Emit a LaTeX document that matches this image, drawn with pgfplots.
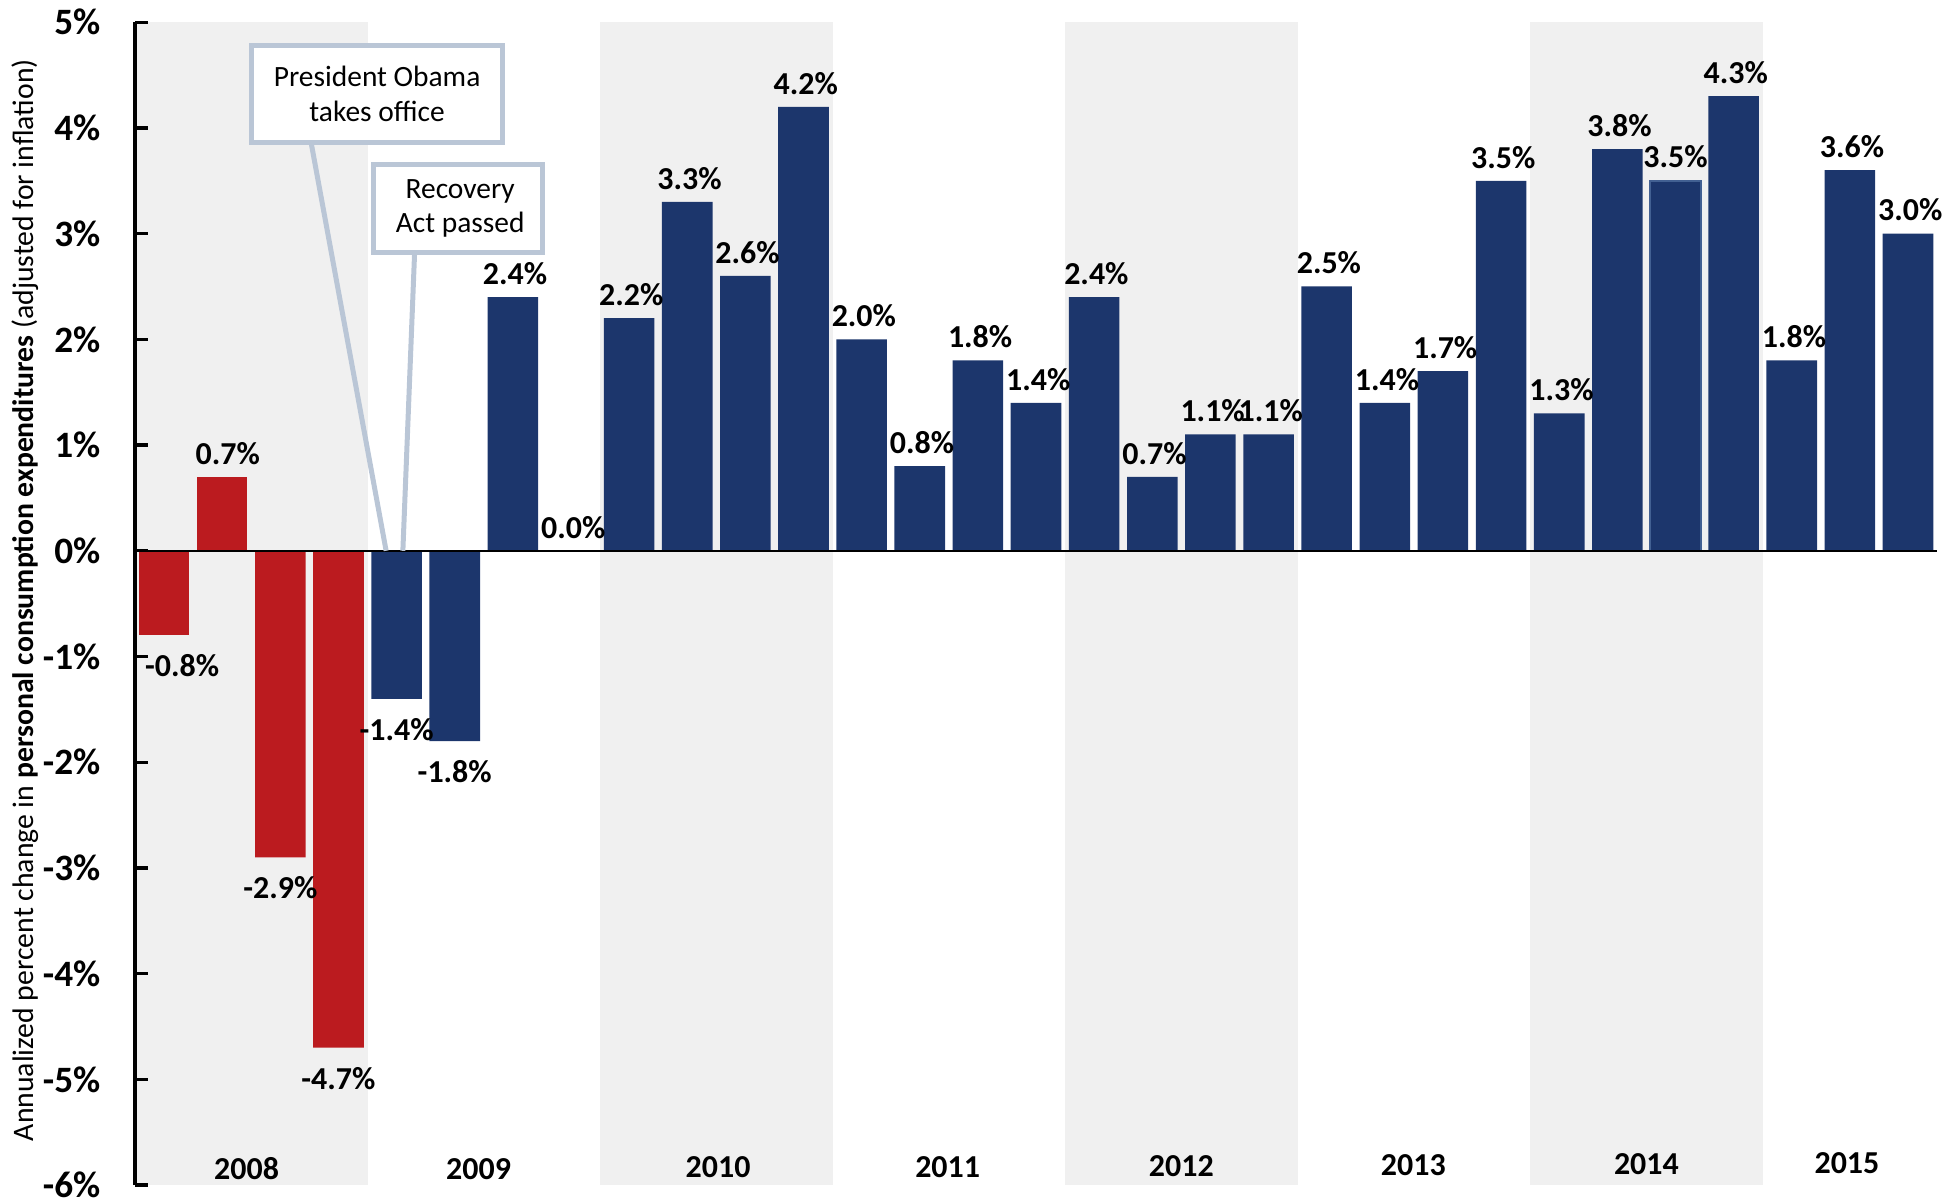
\documentclass[border=0pt]{standalone}
\usepackage{fontspec}
\setmainfont{Carlito}
\usepackage{pgfplots}
\pgfplotsset{compat=1.18}
\definecolor{barred}{RGB}{187,27,31}
\definecolor{barblue}{RGB}{28,54,108}
\definecolor{shadegray}{RGB}{240,240,240}
\definecolor{callout}{RGB}{186,198,214}
\definecolor{edgeblue}{RGB}{66,96,146}
\begin{document}
\begin{tikzpicture}
\begin{axis}[
  scale only axis, width=648.7bp, height=418.6bp,
  xmin=-0.5, xmax=30.5, ymin=-6, ymax=5,
  axis x line=none, axis y line*=left,
  y axis line style={black, line width=1.2bp},
  ytick={-6,-5,-4,-3,-2,-1,0,1,2,3,4,5},
  yticklabels={-6\%,-5\%,-4\%,-3\%,-2\%,-1\%,0\%,1\%,2\%,3\%,4\%,5\%},
  tick align=inside, major tick length=4.5bp,
  ytick style={black, line width=1.2bp},
  yticklabel style={font=\fontsize{13.4bp}{15bp}\selectfont\bfseries, anchor=east, inner sep=0pt, xshift=-12.3bp},
  ylabel={Annualized percent change in \textbf{personal consumption expenditures} (adjusted for inflation)},
  ylabel style={at={(axis description cs:-0.0564,0.503)}, anchor=base, font=\fontsize{10.7bp}{13bp}\selectfont},
  ybar, bar width=0.87,
  clip=false, axis on top,
  nodes near coords={\pgfmathprintnumber[fixed,fixed zerofill,precision=1,assume math mode=true]{\pgfplotspointmeta}\%},
  every node near coord/.append style={font=\fontsize{11.5bp}{13bp}\selectfont\bfseries, inner sep=0pt, text=black},
]
% alternating year shading
\fill[shadegray] (axis cs:-0.5,-6) rectangle (axis cs:3.5,5);
\fill[shadegray] (axis cs:7.5,-6) rectangle (axis cs:11.5,5);
\fill[shadegray] (axis cs:15.5,-6) rectangle (axis cs:19.5,5);
\fill[shadegray] (axis cs:23.5,-6) rectangle (axis cs:27.5,5);

% red bars (2008)
\addplot[fill=barred, draw=none, bar shift=0pt, nodes near coords style={yshift=-6.8bp, xshift=6.5bp}]
  coordinates {(0,-0.8)};
\addplot[fill=barred, draw=none, bar shift=0pt, nodes near coords style={yshift=-6.8bp}]
  coordinates {(2,-2.9) (3,-4.7)};
\addplot[fill=barred, draw=none, bar shift=0pt, nodes near coords style={yshift=4.3bp, xshift=2bp}]
  coordinates {(1,0.7)};
% blue bars
\addplot[fill=barblue, draw=none, bar shift=0pt, nodes near coords style={yshift=-6.8bp}]
  coordinates {(4,-1.4) (5,-1.8)};
\addplot[fill=barblue, draw=none, bar shift=0pt, nodes near coords style={yshift=4.3bp, xshift=0.8bp}]
  coordinates {(6,2.4) (7,0.0) (8,2.2) (9,3.3) (10,2.6) (11,4.2) (12,2.0) (13,0.8)
               (14,1.8) (15,1.4) (16,2.4) (17,0.7) (18,1.1) (19,1.1) (20,2.5) (21,1.4)
               (22,1.7) (23,3.5) (24,1.3) (25,3.8) (27,4.3) (28,1.8) (29,3.6) (30,3.0)};
\addplot[fill=barblue, draw=edgeblue, line width=0.7bp, bar shift=0pt, nodes near coords style={yshift=4.3bp}]
  coordinates {(26,3.5)};

% zero line
\draw[black, line width=0.9bp] (axis cs:-0.5,0) -- (axis cs:30.5,0);

% callouts
\draw[callout, line width=1.8bp] (axis cs:2.529,3.863) -- (axis cs:3.82,0);
\draw[callout, line width=1.8bp] (axis cs:4.31,2.822) -- (axis cs:4.108,0);
\filldraw[fill=white, draw=callout, line width=1.8bp] (axis cs:1.497,3.863) rectangle (axis cs:5.83,4.778);
\filldraw[fill=white, draw=callout, line width=1.8bp] (axis cs:3.605,2.822) rectangle (axis cs:6.514,3.658);
\node[font=\fontsize{10.6bp}{12.4bp}\selectfont, align=center] at (axis cs:3.665,4.32) {President Obama\\takes office};
\node[font=\fontsize{10.6bp}{12.4bp}\selectfont, align=center] at (axis cs:5.094,3.24) {Recovery\\Act passed};

% year labels
\begin{scope}[every node/.style={font=\fontsize{11.5bp}{13bp}\selectfont\bfseries, anchor=center, inner sep=0pt}]
\node at (axis cs:1.42,-5.84) {2008};
\node at (axis cs:5.41,-5.85) {2009};
\node at (axis cs:9.53,-5.83) {2010};
\node at (axis cs:13.48,-5.83) {2011};
\node at (axis cs:17.5,-5.82) {2012};
\node at (axis cs:21.49,-5.81) {2013};
\node at (axis cs:25.5,-5.80) {2014};
\node at (axis cs:28.95,-5.79) {2015};
\end{scope}
\end{axis}
\pgfresetboundingbox
\path[use as bounding box] (-48.6bp,-5.04bp) rectangle (656.6bp,426.6bp);
\end{tikzpicture}
\end{document}
